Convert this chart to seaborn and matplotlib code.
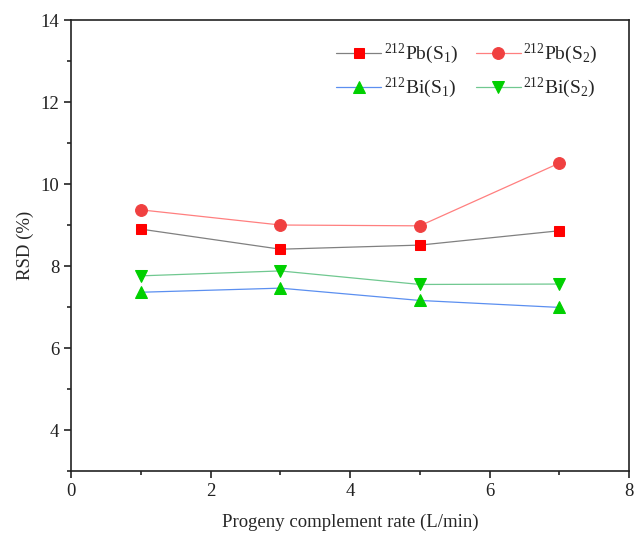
import matplotlib
matplotlib.use("Agg")
import matplotlib.pyplot as plt
import seaborn as sns
import pandas as pd
from matplotlib.ticker import MultipleLocator

sns.set_theme(style="ticks")
plt.rcParams['font.family'] = ['Liberation Serif', 'DejaVu Serif']
plt.rcParams['mathtext.fontset'] = 'custom'
plt.rcParams['mathtext.rm'] = 'Liberation Serif'
plt.rcParams['mathtext.it'] = 'Liberation Serif:italic'

rate = [1, 3, 5, 7]
pb_s1 = [8.90, 8.41, 8.51, 8.86]
pb_s2 = [9.37, 9.00, 8.98, 10.51]
bi_s1 = [7.36, 7.46, 7.16, 6.99]
bi_s2 = [7.76, 7.88, 7.55, 7.56]
labels = [r'$^{212}$Pb(S$_1$)', r'$^{212}$Pb(S$_2$)', r'$^{212}$Bi(S$_1$)', r'$^{212}$Bi(S$_2$)']

series = [
    (pb_s1, labels[0], '#808080', 's', '#ff0000', 7.5),
    (pb_s2, labels[1], '#ff7f7f', 'o', '#f04040', 8.5),
    (bi_s1, labels[2], '#5b8ff0', '^', '#00d000', 9),
    (bi_s2, labels[3], '#70c890', 'v', '#00d000', 9),
]

fig = plt.figure(figsize=(6.4, 5.35), dpi=100)
ax = fig.add_axes([0.111, 0.1196, 0.872, 0.843])

for vals, lab, lc, mk, mc, ms in series:
    df = pd.DataFrame({'rate': rate, 'rsd': vals})
    sns.lineplot(data=df, x='rate', y='rsd', ax=ax, color=lc, linewidth=0.9,
                 marker=mk, markersize=ms, markerfacecolor=mc, markeredgecolor=mc,
                 label=lab)

ax.set_xlim(0, 8)
ax.set_ylim(3, 14)
ax.xaxis.set_major_locator(MultipleLocator(2))
ax.xaxis.set_minor_locator(MultipleLocator(1))
ax.yaxis.set_major_locator(MultipleLocator(2))
ax.yaxis.set_minor_locator(MultipleLocator(1))
ax.set_yticks([4, 6, 8, 10, 12, 14])
ax.tick_params(axis='both', which='major', direction='out', length=5, width=1.2,
               labelsize=13.5, colors='#222222')
ax.tick_params(axis='both', which='minor', direction='out', length=3, width=1.2)
for s in ax.spines.values():
    s.set_linewidth(1.2)
    s.set_color('#222222')
    s.set_visible(True)
ax.set_xlabel('Progeny complement rate (L/min)', fontsize=13.5, labelpad=10)
ax.set_ylabel('RSD (%)', fontsize=13.5, labelpad=5)

handles, labs = ax.get_legend_handles_labels()
order = [0, 2, 1, 3]
leg = ax.legend([handles[i] for i in order], [labs[i] for i in order],
                loc='upper right', bbox_to_anchor=(0.975, 0.99), ncol=2, frameon=False,
                fontsize=14, handlelength=2.3, columnspacing=0.9, labelspacing=0.5,
                handletextpad=0.15)

fig.savefig('out.png', dpi=100)
